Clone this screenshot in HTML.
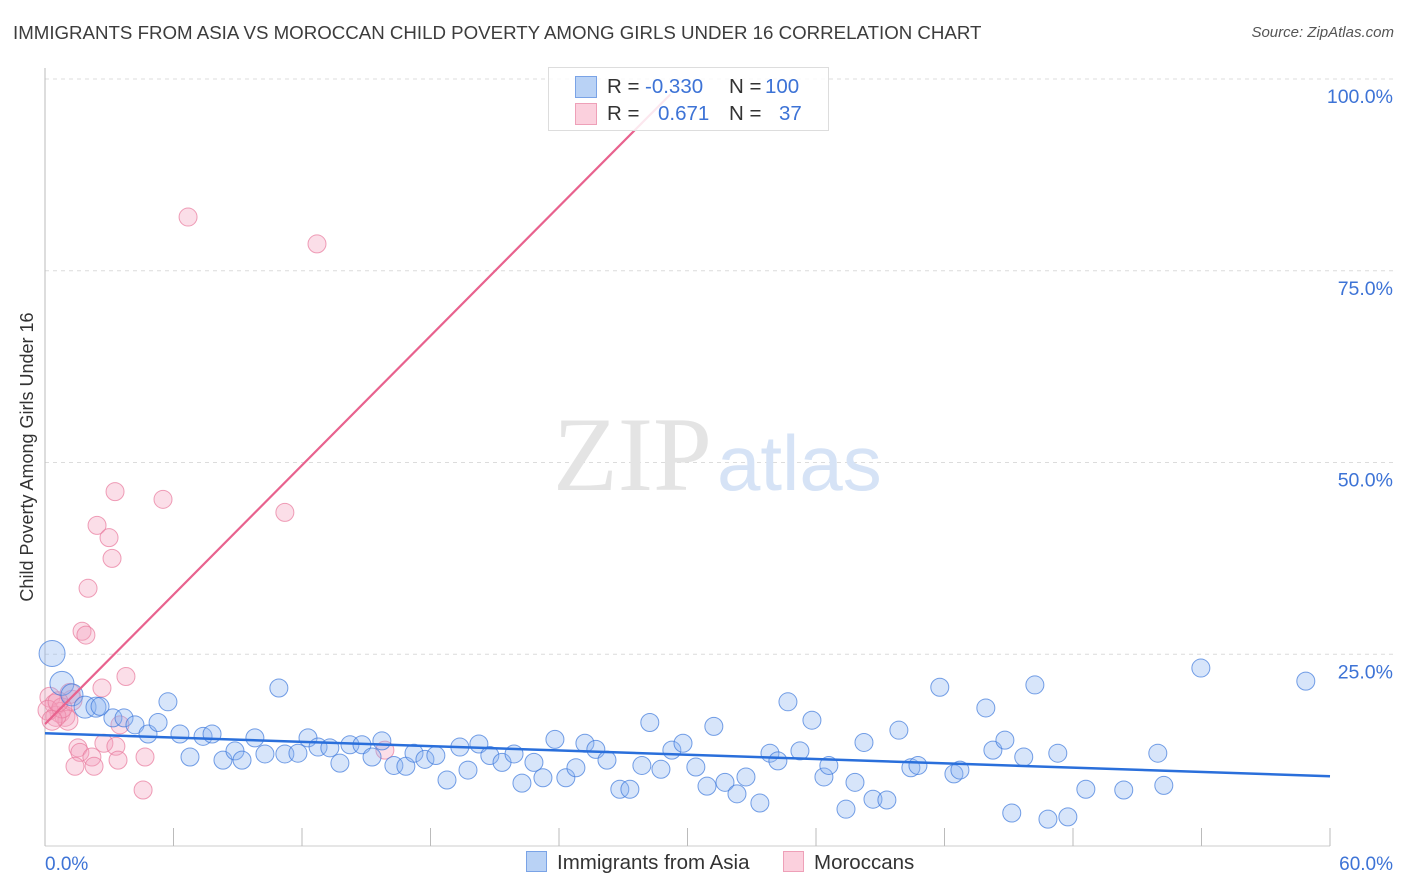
<!DOCTYPE html>
<html><head><meta charset="utf-8">
<style>
body{margin:0;background:#fff;font-family:"Liberation Sans",sans-serif;}
#wrap{position:relative;width:1406px;height:892px;overflow:hidden;}
.t{position:absolute;white-space:nowrap;}
</style></head><body>
<div id="wrap">
<div class="t" style="left:13px;top:22px;font-size:18.7px;color:#3c3c3c;">IMMIGRANTS FROM ASIA VS MOROCCAN CHILD POVERTY AMONG GIRLS UNDER 16 CORRELATION CHART</div>
<div class="t" style="right:12px;top:24px;font-size:15px;color:#555;font-style:italic;">Source: ZipAtlas.com</div>
<svg id="svg" width="1406" height="892" style="position:absolute;left:0;top:0"></svg>
</div>
<script>
const xTicks=[0,6,12,18,24,30,36,42,48,54,60];
const yTicks=[25,50,75,100];
const yTickLabels=["25.0%","50.0%","75.0%","100.0%"];
const xEndLabels=["0.0%","60.0%"];
const asiaX=[0.33,0.79,1.26,1.87,2.38,2.57,3.17,3.69,4.2,4.81,5.28,5.74,6.3,6.77,7.38,7.8,8.31,8.87,9.2,9.8,10.27,10.92,11.2,11.81,12.28,12.75,13.3,13.77,14.24,14.8,15.27,15.73,16.29,16.85,17.23,17.74,18.25,18.77,19.37,19.75,20.26,20.77,21.34,21.9,22.27,22.83,23.25,23.81,24.32,24.79,25.21,25.72,26.24,26.84,27.31,27.87,28.24,28.76,29.27,29.79,30.39,30.91,31.23,31.75,32.31,32.73,33.38,33.85,34.22,34.69,35.25,35.81,36.37,36.6,37.4,37.82,38.24,38.66,39.31,39.87,40.43,40.76,41.78,42.44,42.72,43.93,44.26,44.82,45.14,45.7,46.22,46.83,47.29,47.76,48.6,50.37,51.96,52.24,53.97,58.87];
const asiaY=[25.1,21.2,19.7,18.1,18.1,18.2,16.7,16.7,15.8,14.6,16.1,18.8,14.6,11.6,14.3,14.6,11.2,12.4,11.2,14.1,12.0,20.6,12.0,12.1,14.1,12.9,12.8,10.8,13.2,13.2,11.6,13.7,10.5,10.4,12.1,11.3,11.8,8.6,12.9,9.9,13.3,11.8,10.9,12.0,8.2,10.9,8.9,13.9,8.9,10.2,13.4,12.6,11.2,7.4,7.4,10.5,16.1,10.0,12.5,13.4,10.3,7.8,15.6,8.3,6.8,9.0,5.6,12.1,11.1,18.8,12.4,16.4,9.0,10.5,4.8,8.3,13.5,6.1,6.0,15.1,10.2,10.5,20.7,9.4,9.9,18.0,12.5,13.8,4.3,11.6,21.0,3.5,12.1,3.8,7.4,7.3,12.1,7.9,23.2,21.5];
const asiaBig=[13,12,11,11,10];
const morX=[6.68,12.7,3.27,5.51,2.43,2.99,3.13,11.2,2.01,1.73,1.91,3.78,2.66,0.23,0.47,0.7,0.93,1.07,0.51,1.26,3.5,1.54,1.63,2.75,3.31,2.19,1.4,2.29,3.41,4.67,4.58,15.87,1.17,0.14,0.79,0.33,0.61];
const morY=[82.0,78.5,46.2,45.2,41.8,40.2,37.5,43.5,33.6,28.0,27.5,22.1,20.6,19.4,18.5,17.4,16.9,16.4,16.9,19.0,15.8,12.8,12.2,13.4,13.0,11.6,10.4,10.4,11.2,11.6,7.3,12.5,19.9,17.7,18.0,16.4,18.8];
const asiaTrend=[[0,14.7],[60,9.1]];
const morTrend=[[0,15.9],[29.2,98.0]];

const X0=45,X1=1330,Y0=846,Y100=79;
const sx=v=>X0+(X1-X0)*v/60;
const sy=v=>Y0-(Y0-Y100)*v/100;
const svg=document.getElementById('svg');
const NS='http://www.w3.org/2000/svg';
function mk(tag,attrs){const e=document.createElementNS(NS,tag);for(const k in attrs)e.setAttribute(k,attrs[k]);svg.appendChild(e);return e;}

yTicks.forEach((v,i)=>{
  const g=mk('line',{x1:X0,x2:1395,y1:sy(v),y2:sy(v),stroke:'#dcdcdc','stroke-dasharray':'4,4'});
  
  
  const t=mk('text',{x:1393,y:sy(v)+24,'text-anchor':'end','font-size':19.5,fill:'#3d73d6','font-family':'Liberation Sans, sans-serif'});
  t.textContent=yTickLabels[i];
  
  
});
const w1=mk('text',{x:553,y:490,'font-size':106,fill:'#e4e4e4','font-family':'Liberation Serif, serif'});
w1.textContent='ZIP';


const w2=mk('text',{x:717,y:490,'font-size':78,fill:'#d6e3f6','font-family':'Liberation Sans, sans-serif'});
w2.textContent='atlas';


const ya=mk('line',{x1:X0,x2:X0,y1:68,y2:Y0,stroke:'#bbb'});


const xa=mk('line',{x1:X0,x2:X1,y1:Y0,y2:Y0,stroke:'#ccc'});


xTicks.forEach(v=>{
  const l=mk('line',{x1:sx(v),x2:sx(v),y1:828,y2:Y0,stroke:'#bbb'});
  
  
});
const xl0=mk('text',{x:45,y:870,'font-size':19,fill:'#3d73d6','font-family':'Liberation Sans, sans-serif'});
xl0.textContent=xEndLabels[0];


const xl1=mk('text',{x:1393,y:870,'text-anchor':'end','font-size':19,fill:'#3d73d6','font-family':'Liberation Sans, sans-serif'});
xl1.textContent=xEndLabels[1];


const yt=mk('text',{x:0,y:0,'font-size':18,fill:'#333','font-family':'Liberation Sans, sans-serif','text-anchor':'middle',transform:'translate(33,457) rotate(-90)'});
yt.textContent='Child Poverty Among Girls Under 16';



morX.forEach((v,i)=>{
  const c=mk('circle',{cx:sx(v),cy:sy(morY[i]),r:(v<1.3&&morY[i]>15&&morY[i]<21)?10:9,fill:'rgba(244,160,188,0.35)',stroke:'rgba(232,120,155,0.7)','stroke-width':1});
  
  
});
asiaX.forEach((v,i)=>{
  const c=mk('circle',{cx:sx(v),cy:sy(asiaY[i]),r:asiaBig[i]||9,fill:'rgba(140,180,240,0.35)',stroke:'rgba(60,120,220,0.7)','stroke-width':1});
  
  
});
const tb=mk('line',{x1:sx(asiaTrend[0][0]),y1:sy(asiaTrend[0][1]),x2:sx(asiaTrend[1][0]),y2:sy(asiaTrend[1][1]),stroke:'#2a6fdb','stroke-width':2.5});


const tp=mk('line',{x1:sx(morTrend[0][0]),y1:sy(morTrend[0][1]),x2:sx(morTrend[1][0]),y2:sy(morTrend[1][1]),stroke:'#e8628e','stroke-width':2.2});


</script>
<div class="t" style="left:548px;top:67px;width:279px;height:62px;border:1px solid #ddd;background:rgba(255,255,255,0.85);font-size:20.5px;">
 <div style="position:absolute;left:26px;top:8px;width:20px;height:20px;background:#b9d2f5;border:1px solid #7aa3e6;"></div>
 <div style="position:absolute;left:58px;top:7px;color:#333;">R =</div>
 <div style="position:absolute;left:96px;top:7px;color:#3d73d6;">-0.330</div>
 <div style="position:absolute;left:180px;top:7px;color:#333;">N =</div>
 <div style="position:absolute;left:216px;top:7px;color:#3d73d6;">100</div>
 <div style="position:absolute;left:26px;top:35px;width:20px;height:20px;background:#fbd0dd;border:1px solid #eea0b8;"></div>
 <div style="position:absolute;left:58px;top:34px;color:#333;">R =</div>
 <div style="position:absolute;left:109px;top:34px;color:#3d73d6;">0.671</div>
 <div style="position:absolute;left:180px;top:34px;color:#333;">N =</div>
 <div style="position:absolute;left:230px;top:34px;color:#3d73d6;">37</div>
</div>
<div class="t" style="left:526px;top:851px;font-size:20.5px;color:#333;">
 <span style="display:inline-block;width:19px;height:19px;background:#b9d2f5;border:1px solid #7aa3e6;vertical-align:-3px;margin-right:10px;"></span>Immigrants from Asia</div>
<div class="t" style="left:783px;top:851px;font-size:20.5px;color:#333;">
 <span style="display:inline-block;width:19px;height:19px;background:#fbd0dd;border:1px solid #eea0b8;vertical-align:-3px;margin-right:10px;"></span>Moroccans</div>
</body></html>
